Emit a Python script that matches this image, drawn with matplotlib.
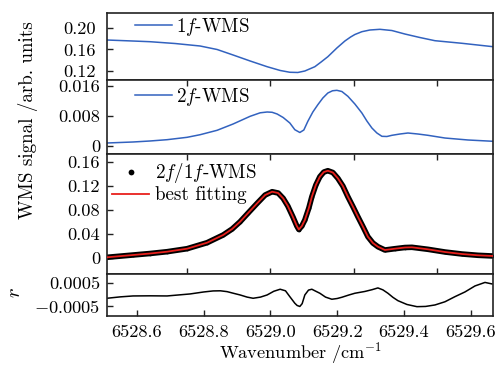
import matplotlib
matplotlib.use("Agg")
import matplotlib.pyplot as plt

plt.rcParams['font.family'] = ['cmr10', 'DejaVu Serif']
plt.rcParams['mathtext.fontset'] = 'cm'
plt.rcParams['axes.unicode_minus'] = False

# ---- data ----
x1f = [6528.510, 6528.588, 6528.639, 6528.714, 6528.789, 6528.840, 6528.888, 6528.939,
       6528.990, 6529.029, 6529.058, 6529.082, 6529.103, 6529.133, 6529.152, 6529.172,
       6529.199, 6529.223, 6529.240, 6529.253, 6529.274, 6529.298, 6529.328, 6529.364,
       6529.403, 6529.448, 6529.493, 6529.574, 6529.667]
y1f = [0.1779, 0.1760, 0.1747, 0.1713, 0.1666, 0.1600, 0.1496, 0.1383,
       0.1275, 0.1204, 0.1170, 0.1166, 0.1194, 0.1275, 0.1365, 0.1464,
       0.1628, 0.1760, 0.1835, 0.1883, 0.1936, 0.1968, 0.1981, 0.1958,
       0.1892, 0.1826, 0.1766, 0.1717, 0.1653]

x2f = [6528.510, 6528.588, 6528.639, 6528.690, 6528.750, 6528.789, 6528.840, 6528.888,
       6528.939, 6528.969, 6528.990, 6529.005, 6529.020, 6529.038, 6529.058, 6529.073,
       6529.088, 6529.100, 6529.112, 6529.127, 6529.142, 6529.157, 6529.172, 6529.186,
       6529.199, 6529.214, 6529.232, 6529.253, 6529.274, 6529.289, 6529.304, 6529.319,
       6529.334, 6529.349, 6529.364, 6529.388, 6529.412, 6529.442, 6529.472, 6529.523,
       6529.592, 6529.667]
y2f = [0.00073, 0.00100, 0.00127, 0.00162, 0.00226, 0.00296, 0.00415, 0.00585,
       0.00792, 0.00886, 0.00908, 0.00900, 0.00854, 0.00760, 0.00612, 0.00431,
       0.00356, 0.00423, 0.00657, 0.00908, 0.01105, 0.01285, 0.01420, 0.01480,
       0.01492, 0.01460, 0.01331, 0.01123, 0.00881, 0.00665, 0.00477, 0.00342,
       0.00253, 0.00248, 0.00280, 0.00315, 0.00342, 0.00315, 0.00280, 0.00207,
       0.00154, 0.00119]

x_ratio = [6528.510, 6528.588, 6528.639, 6528.690, 6528.750, 6528.810, 6528.858, 6528.885,
           6528.909, 6528.933, 6528.960, 6528.984, 6529.005, 6529.023, 6529.038, 6529.052,
           6529.067, 6529.079, 6529.085, 6529.094, 6529.103, 6529.115, 6529.124, 6529.136,
           6529.148, 6529.160, 6529.172, 6529.187, 6529.202, 6529.217, 6529.232, 6529.247,
           6529.262, 6529.277, 6529.292, 6529.307, 6529.322, 6529.343, 6529.373, 6529.403,
           6529.424, 6529.448, 6529.472, 6529.523, 6529.574, 6529.622, 6529.667]
y_ratio = [0.00166, 0.00546, 0.00795, 0.01093, 0.01590, 0.02583, 0.03858, 0.04852,
           0.06061, 0.07502, 0.09108, 0.10482, 0.11029, 0.10814, 0.09936, 0.08661,
           0.06889, 0.05349, 0.04769, 0.05349, 0.06342, 0.08330, 0.10201, 0.12138,
           0.13513, 0.14291, 0.14507, 0.14208, 0.13248, 0.11973, 0.10201, 0.08578,
           0.06889, 0.05266, 0.03577, 0.02534, 0.01921, 0.01374, 0.01590, 0.01788,
           0.01822, 0.01656, 0.01490, 0.01043, 0.00712, 0.00497, 0.00381]
y_fit = list(y_ratio)

x_res = [6528.510, 6528.550, 6528.588, 6528.640, 6528.690, 6528.759, 6528.800, 6528.828,
         6528.850, 6528.870, 6528.890, 6528.909, 6528.930, 6528.948, 6528.970, 6528.990,
         6529.010, 6529.029, 6529.045, 6529.058, 6529.067, 6529.073, 6529.080, 6529.088,
         6529.095, 6529.103, 6529.114, 6529.124, 6529.136, 6529.148, 6529.165, 6529.184,
         6529.200, 6529.214, 6529.235, 6529.253, 6529.283, 6529.305, 6529.322, 6529.337,
         6529.352, 6529.367, 6529.382, 6529.409, 6529.439, 6529.465, 6529.493, 6529.523,
         6529.553, 6529.583, 6529.613, 6529.643, 6529.664]
y_res = [-0.000170, -0.000110, -0.000071, -0.000065, -0.000071, 0.000015, 0.000100, 0.000144,
         0.000150, 0.000114, 0.000040, -0.000028, -0.000120, -0.000170, -0.000120, -0.000028,
         0.000130, 0.000217, 0.000150, -0.000101, -0.000270, -0.000384, -0.000480, -0.000521,
         -0.000400, -0.000028, 0.000180, 0.000217, 0.000130, 0.000045, -0.000120, -0.000212,
         -0.000180, -0.000127, -0.000030, 0.000045, 0.000122, 0.000200, 0.000273, 0.000190,
         0.000045, -0.000130, -0.000273, -0.000436, -0.000530, -0.000520, -0.000457, -0.000320,
         -0.000101, 0.000101, 0.000358, 0.000509, 0.000444]

top_xticks = [6528.75, 6529.0, 6529.25, 6529.5]
bot_xticks = [6528.6, 6528.8, 6529.0, 6529.2, 6529.4, 6529.6]
bot_xlabels = ['6528.6', '6528.8', '6529.0', '6529.2', '6529.4', '6529.6']
p1_yticks = [0.12, 0.16, 0.20]
p1_ylabels = ['0.12', '0.16', '0.20']
p2_yticks = [0, 0.008, 0.016]
p2_ylabels = ['0', '0.008', '0.016']
p3_yticks = [0, 0.04, 0.08, 0.12, 0.16]
p3_ylabels = ['0', '0.04', '0.08', '0.12', '0.16']
p4_yticks = [-0.0005, 0.0005]
p4_ylabels = ['$-$0.0005', '0.0005']

BLUE = '#3262bf'
RED = '#e8201c'
XLIM = (6528.510, 6529.667)
FS = 13.2

fig = plt.figure(figsize=(4.97, 3.65), dpi=100)
W, H = 497.0, 365.0
left, right = 107 / W, 493 / W
def mk(top, bot):
    return fig.add_axes([left, (H - bot) / H, right - left, (bot - top) / H])

ax1 = mk(13, 80)
ax2 = mk(80, 153.5)
ax3 = mk(153.5, 274)
ax4 = mk(274, 316)

for ax in (ax1, ax2, ax3, ax4):
    ax.set_xlim(*XLIM)
    for s in ax.spines.values():
        s.set_linewidth(1.2)
        s.set_color('#222222')
    ax.tick_params(axis='both', direction='in', labelsize=FS, length=4.5, width=1.0,
                   color='#222222')
    ax.tick_params(axis='y', pad=5)

# panel 1
ax1.plot(x1f, y1f, color=BLUE, lw=1.1, label='1$f$-WMS')
ax1.set_ylim(0.1024, 0.2289)
ax1.set_yticks(p1_yticks)
ax1.set_yticklabels(p1_ylabels)
ax1.set_xticks(top_xticks)
ax1.tick_params(axis='x', bottom=False, labelbottom=False)
ax1.tick_params(axis='y', pad=8)
ax1.legend(loc='center left', bbox_to_anchor=(0.0725, 0.79), frameon=False, fontsize=FS + 0.5,
           borderpad=0, borderaxespad=0, handlelength=1.95, handletextpad=0.2)

# panel 2
ax2.plot(x2f, y2f, color=BLUE, lw=1.1, label='2$f$-WMS')
ax2.set_ylim(-0.0021, 0.0177)
ax2.set_yticks(p2_yticks)
ax2.set_yticklabels(p2_ylabels)
ax2.set_xticks(top_xticks)
ax2.tick_params(axis='x', top=True, bottom=False, labelbottom=False)
ax2.legend(loc='center left', bbox_to_anchor=(0.0725, 0.77), frameon=False, fontsize=FS + 0.5,
           borderpad=0, borderaxespad=0, handlelength=1.95, handletextpad=0.2)

# panel 3
ax3.plot(x_ratio, y_ratio, color='black', lw=4.0, solid_capstyle='round',
         solid_joinstyle='round', zorder=2)
ax3.plot(x_ratio, y_ratio, 'o', color='black', ms=2.6, mew=0, label='2$f$/1$f$-WMS', zorder=2)
ax3.plot(x_ratio, y_fit, color=RED, lw=1.3, label='best fitting', zorder=3)
ax3.set_ylim(-0.026, 0.1736)
ax3.set_yticks(p3_yticks)
ax3.set_yticklabels(p3_ylabels)
ax3.set_xticks(top_xticks)
ax3.tick_params(axis='x', top=True, bottom=True, labelbottom=False)
ax3.legend(loc='upper left', bbox_to_anchor=(0.013, 0.935), frameon=False, fontsize=FS + 0.5,
           borderpad=0, borderaxespad=0, handlelength=1.95, handletextpad=0.3,
           labelspacing=0.05, markerscale=1.6)

# panel 4
ax4.plot(x_res, y_res, color='black', lw=1.1)
ax4.set_ylim(-0.00093, 0.00087)
ax4.set_yticks(p4_yticks)
ax4.set_yticklabels(p4_ylabels)
ax4.set_xticks(bot_xticks)
ax4.set_xticklabels(bot_xlabels)
ax4.tick_params(axis='x', pad=6)

fig.text(300 / W, 1 - 358 / H, r'$\mathrm{Wavenumber\ /cm^{-1}}$', ha='center', va='baseline',
         fontsize=FS)
fig.text(28 / W, 1 - 120 / H, 'WMS signal /arb. units', rotation=90, ha='center',
         va='center', fontsize=FS + 0.5)
fig.text(15 / W, 1 - 293 / H, '$r$', rotation=90, ha='center', va='center', fontsize=FS + 1.5)

fig.savefig('out.png', dpi=100)
